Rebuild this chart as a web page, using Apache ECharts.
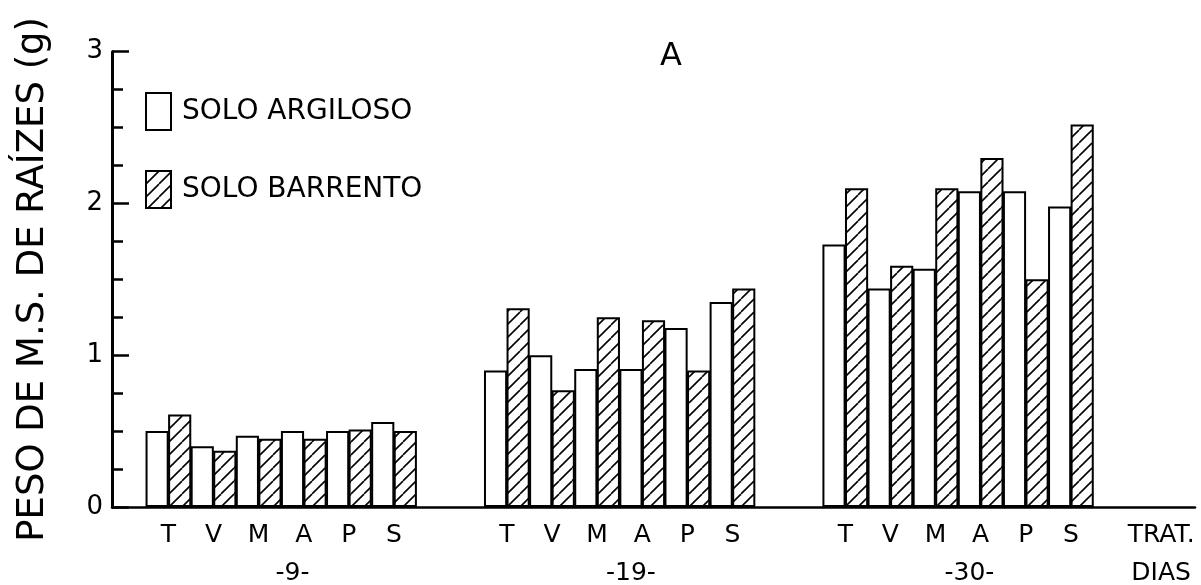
<!DOCTYPE html>
<html><head><meta charset="utf-8">
<script src="https://cdn.jsdelivr.net/npm/echarts@6/dist/echarts.min.js"></script>
<style>html,body{margin:0;padding:0;background:#fff}#c{width:1201px;height:585px}</style>
</head><body><div id="c"></div>
<script>
// ---- data ----
const treatments = ['T', 'V', 'M', 'A', 'P', 'S'];
const days = ['-9-', '-19-', '-30-'];
const argiloso9  = [0.50, 0.40, 0.47, 0.50, 0.50, 0.56];
const argiloso19 = [0.90, 1.00, 0.91, 0.91, 1.18, 1.35];
const argiloso30 = [1.73, 1.44, 1.57, 2.08, 2.08, 1.98];
const barrento9  = [0.61, 0.37, 0.45, 0.45, 0.51, 0.50];
const barrento19 = [1.31, 0.77, 1.25, 1.23, 0.90, 1.44];
const barrento30 = [2.10, 1.59, 2.10, 2.30, 1.50, 2.52];
const yTickLabels = ['0', '1', '2', '3'];
const seriesNames = ['SOLO ARGILOSO', 'SOLO BARRENTO'];
const axisTitle = 'PESO DE M.S. DE RAÍZES (g)';
const endLabel = 'TRAT.\nDIAS';
const chartTitle = 'A';

// ---- layout helpers ----
const argiloso = [argiloso9, argiloso19, argiloso30];
const barrento = [barrento9, barrento19, barrento30];
const STRIDE = 15; // bar slots per group (12 bars + gap)
const FONT = 'DejaVu Sans';

function slot(g, i, s) { return g * STRIDE + 2 * i + s + 0.5; }

const dataA = [], dataB = [];
argiloso.forEach((arr, g) => arr.forEach((v, i) => dataA.push([slot(g, i, 0), v])));
barrento.forEach((arr, g) => arr.forEach((v, i) => dataB.push([slot(g, i, 1), v])));

const labelMap = {};
days.forEach((d, g) => {
  treatments.forEach((t, i) => { labelMap[Math.round((g * STRIDE + 2 * i + 1) * 2)] = t; });
  labelMap[Math.round((g * STRIDE + 6.5) * 2)] = '\n' + d;
});
labelMap[Math.round(45 * 2)] = endLabel;

// hatch pattern
const s = 13;
const cv = document.createElement('canvas');
cv.width = s; cv.height = s;
const ctx = cv.getContext('2d');
ctx.fillStyle = '#fff'; ctx.fillRect(0, 0, s, s);
ctx.strokeStyle = '#000'; ctx.lineWidth = 1.6;
for (let k = -1; k <= 1; k++) {
  ctx.beginPath(); ctx.moveTo(k * s, s); ctx.lineTo(k * s + s, 0); ctx.stroke();
}

const chart = echarts.init(document.getElementById('c'), null, {renderer: 'canvas'});
const gridLeft = 112, gridRight = 6, xMin = -1.5, xMax = 46.5;
const unit = (1201 - gridLeft - gridRight) / (xMax - xMin);

chart.setOption({
  animation: false,
  backgroundColor: '#fff',
  title: {
    text: chartTitle, left: 666, top: 36, textAlign: 'center',
    textStyle: {fontFamily: FONT, fontSize: 32, fontWeight: 'normal', color: '#000'}
  },
  legend: {
    orient: 'vertical', left: 145, top: 92, padding: 0, itemWidth: 25, itemHeight: 37, itemGap: 39,
    icon: 'rect', data: seriesNames,
    textStyle: {fontFamily: FONT, fontSize: 28, color: '#000', padding: [0, 0, 0, 6]}
  },
  grid: {left: gridLeft, right: gridRight, top: 51.7, bottom: 78, containLabel: false, outerBoundsMode: 'none'},
  xAxis: {
    type: 'value', min: xMin, max: xMax, interval: 0.5,
    axisLine: {show: true, onZero: false, lineStyle: {color: '#000', width: 2.5}},
    axisTick: {show: false}, splitLine: {show: false},
    axisLabel: {
      margin: 9, fontFamily: FONT, fontSize: 25, color: '#000', lineHeight: 38,
      showMinLabel: true, showMaxLabel: true,
      formatter: v => labelMap[Math.round(v * 2)] || ''
    }
  },
  yAxis: {
    type: 'value', min: 0, max: 3, interval: 1,
    name: axisTitle, nameLocation: 'middle', nameGap: 60,
    nameTextStyle: {fontFamily: FONT, fontSize: 37, color: '#000'},
    axisLine: {show: true, onZero: false, lineStyle: {color: '#000', width: 3}},
    axisTick: {show: true, inside: true, length: 17, lineStyle: {color: '#000', width: 2.5}},
    minorTick: {show: true, splitNumber: 4, length: 11, lineStyle: {color: '#000', width: 2.5}},
    splitLine: {show: false},
    axisLabel: {margin: 9, fontFamily: FONT, fontSize: 26, color: '#000',
      formatter: v => yTickLabels[Math.round(v)] ?? ''}
  },
  series: [
    {
      name: seriesNames[0], type: 'bar', data: dataA, barWidth: unit + 0.6, barGap: '-100%',
      itemStyle: {color: '#fff', borderColor: '#000', borderWidth: 2},
      emphasis: {disabled: true}
    },
    {
      name: seriesNames[1], type: 'bar', data: dataB, barWidth: unit + 0.6, barGap: '-100%',
      itemStyle: {color: {image: cv, repeat: 'repeat'}, borderColor: '#000', borderWidth: 2},
      emphasis: {disabled: true}
    }
  ]
});
</script></body></html>
